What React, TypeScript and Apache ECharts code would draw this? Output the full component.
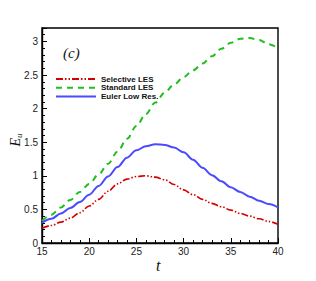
import React, { useEffect, useRef } from "react";
import * as echarts from "echarts";

const tValues = [15, 16, 17, 18, 19, 20, 21, 22, 23, 24, 25, 26, 27, 28, 29, 30, 31, 32, 33, 34, 35, 36, 37, 38, 39, 40];
const selectiveLES = [0.22, 0.26, 0.31, 0.37, 0.45, 0.55, 0.65, 0.77, 0.88, 0.95, 0.99, 1.0, 0.98, 0.94, 0.87, 0.79, 0.72, 0.65, 0.59, 0.54, 0.49, 0.44, 0.4, 0.36, 0.32, 0.28];
const standardLES = [0.33, 0.42, 0.53, 0.64, 0.76, 0.88, 1.02, 1.18, 1.36, 1.55, 1.74, 1.92, 2.09, 2.24, 2.36, 2.47, 2.57, 2.67, 2.78, 2.89, 2.98, 3.04, 3.05, 3.02, 2.96, 2.9];
const eulerLowRes = [0.3, 0.36, 0.44, 0.52, 0.61, 0.72, 0.85, 0.99, 1.13, 1.27, 1.38, 1.44, 1.47, 1.46, 1.42, 1.35, 1.24, 1.12, 1.01, 0.92, 0.83, 0.76, 0.69, 0.63, 0.58, 0.53];
const seriesNames = ["Selective LES", "Standard LES", "Euler Low Res."];

const zip = (ys: number[]) => tValues.map((t, i) => [t, ys[i]]);

export default function App() {
  const ref = useRef<HTMLDivElement>(null);
  useEffect(() => {
    if (!ref.current) return;
    const chart = echarts.init(ref.current, null, { renderer: "svg" });
    const axisFont = { fontFamily: "Liberation Sans, Arial, sans-serif", fontSize: 10, color: "#222" };
    const lineCommon = { type: "line", smooth: 0.35, smoothMonotone: "x", showSymbol: false, symbol: "none" };
    chart.setOption({
      animation: false,
      backgroundColor: "#fff",
      grid: { left: 42, right: 38, top: 28, bottom: 38, show: true, borderColor: "#000", borderWidth: 1.4, backgroundColor: "transparent" },
      legend: {
        orient: "vertical",
        left: 50,
        top: 70,
        itemWidth: 40,
        itemHeight: 10,
        itemGap: 0.8,
        itemStyle: { opacity: 0 },
        textStyle: { fontFamily: "Liberation Sans, Arial, sans-serif", fontSize: 8, fontWeight: "bold", color: "#111" },
        data: seriesNames,
      },
      xAxis: {
        type: "value",
        min: 15,
        max: 40,
        interval: 5,
        axisLine: { show: true, lineStyle: { color: "#000", width: 1.4 } },
        axisTick: { show: true, inside: true, length: 5, lineStyle: { color: "#000" } },
        minorTick: { show: true, splitNumber: 5, length: 3, lineStyle: { color: "#000" } },
        splitLine: { show: false },
        axisLabel: { ...axisFont, margin: 3 },
      },
      yAxis: {
        type: "value",
        min: 0,
        max: 3.2,
        interval: 0.5,
        axisLine: { show: true, lineStyle: { color: "#000", width: 1.4 } },
        axisTick: { show: true, inside: true, length: 5, lineStyle: { color: "#000" } },
        minorTick: { show: true, splitNumber: 5, length: 3, lineStyle: { color: "#000" } },
        splitLine: { show: false },
        axisLabel: { ...axisFont, margin: 4, showMaxLabel: false, formatter: (v: number) => String(v) },
      },
      graphic: [
        {
          type: "text",
          left: 63,
          top: 45,
          style: { text: "(c)", font: "italic 15px 'Liberation Serif', serif", fill: "#111" },
        },
        {
          type: "text",
          left: 156,
          top: 257,
          style: { text: "t", font: "italic 16px 'Liberation Serif', serif", fill: "#111" },
        },
        {
          type: "text",
          x: 15,
          y: 140,
          rotation: Math.PI / 2,
          style: {
            text: "{e|E}{u|u}",
            align: "center",
            verticalAlign: "middle",
            rich: {
              e: { font: "italic 14px 'Liberation Serif', serif", fill: "#111" },
              u: { font: "italic 9px 'Liberation Serif', serif", fill: "#111", padding: [7, 0, 0, 0] },
            },
          },
        },
      ],
      series: [
        {
          ...lineCommon,
          name: seriesNames[0],
          data: zip(selectiveLES),
          lineStyle: { color: "#d40000", width: 1.6, type: [7, 2, 1.5, 2, 1.5, 2] },
          itemStyle: { color: "#d40000" },
        },
        {
          ...lineCommon,
          name: seriesNames[1],
          data: zip(standardLES),
          lineStyle: { color: "#1fbf1f", width: 2, type: [6, 5] },
          itemStyle: { color: "#1fbf1f" },
        },
        {
          ...lineCommon,
          name: seriesNames[2],
          data: zip(eulerLowRes),
          lineStyle: { color: "#4a4aff", width: 2 },
          itemStyle: { color: "#4a4aff" },
        },
      ],
    });
    return () => chart.dispose();
  }, []);
  return <div ref={ref} style={{ width: 316, height: 281, margin: -8 }} />;
}
